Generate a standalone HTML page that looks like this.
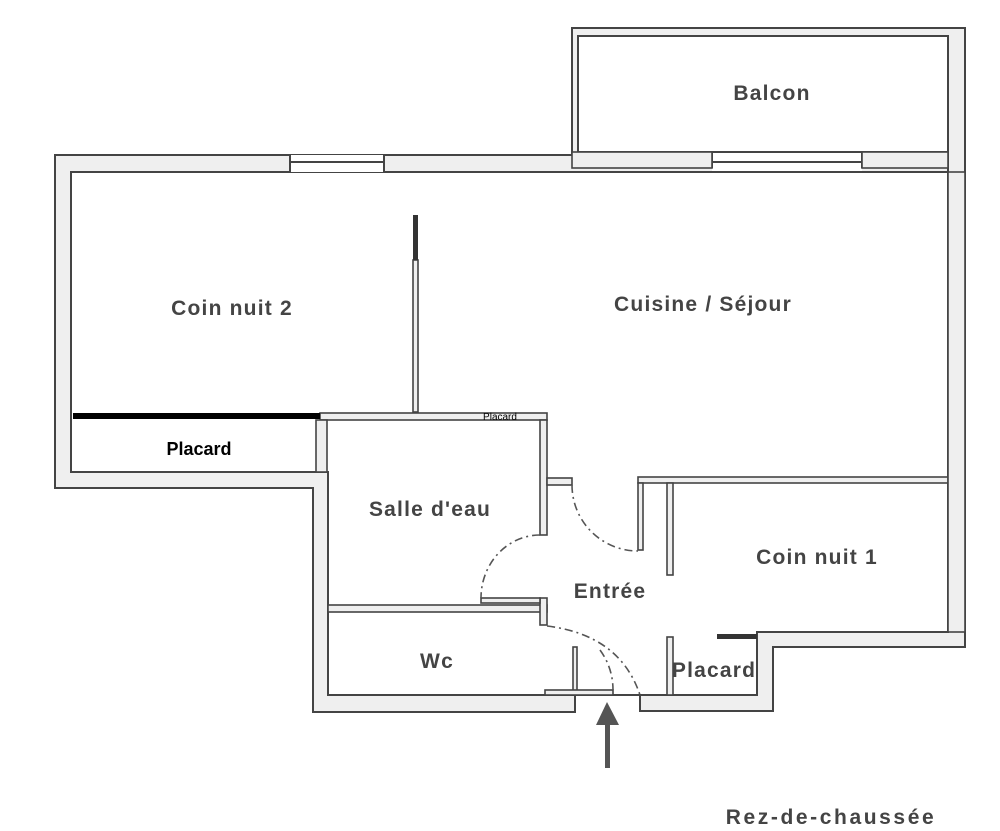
<!DOCTYPE html>
<html><head><meta charset="utf-8"><style>
html,body{margin:0;padding:0;background:#fff;}
svg{display:block;}
.t{font-family:"Comic Sans MS","Liberation Sans",sans-serif;font-weight:bold;fill:#444;font-size:21px;text-anchor:middle;letter-spacing:1.2px;}
</style></head><body>
<svg width="1000" height="831" viewBox="0 0 1000 831" xmlns="http://www.w3.org/2000/svg">
<g stroke="#444" stroke-width="2" stroke-linejoin="miter">
<path d="M55,155 L572,155 L572,28 L965,28 L965,647 L773,647 L773,711 L640,711 L640,695 L575,695 L575,712 L313,712 L313,488 L55,488 Z" fill="#efefef"/>
<path d="M71,172 L948,172 L948,632 L757,632 L757,695 L640,695 L575,695 L328,695 L328,472 L71,472 Z" fill="#fff"/>
<rect x="578" y="36" width="370" height="116" fill="#fff"/>
</g>
<g fill="#fff" stroke="#444" stroke-width="2">
<rect x="290" y="155" width="94" height="7" fill="#fff" stroke="none"/>
<rect x="290" y="162" width="94" height="10" fill="#fff" stroke="none"/>
<line x1="290" y1="162" x2="384" y2="162"/>
<line x1="290" y1="155" x2="290" y2="172"/><line x1="384" y1="155" x2="384" y2="172"/>
<rect x="712" y="153" width="150" height="18" fill="#fff" stroke="none"/>
<line x1="712" y1="162" x2="862" y2="162"/>
<line x1="712" y1="152" x2="712" y2="168"/><line x1="862" y1="152" x2="862" y2="168"/>
<line x1="948" y1="152" x2="948" y2="172"/>
</g>
<g fill="#efefef" stroke="#444" stroke-width="1.6">
<rect x="572" y="152" width="140" height="16"/>
<rect x="862" y="152" width="86" height="16"/>
<rect x="413" y="260" width="5" height="152"/>
<rect x="320" y="413" width="227" height="7"/>
<rect x="316" y="420" width="11" height="52"/>
<rect x="540" y="420" width="7" height="115"/>
<rect x="547" y="478" width="25" height="7"/>
<rect x="328" y="605" width="219" height="7"/>
<rect x="540" y="598" width="7" height="27"/>
<rect x="481" y="598" width="59" height="5"/>
<rect x="573" y="647" width="4" height="48"/>
<rect x="545" y="690" width="68" height="5"/>
<rect x="638" y="477" width="310" height="6"/>
<rect x="638" y="483" width="5" height="67"/>
<rect x="667" y="483" width="6" height="92"/>
<rect x="667" y="637" width="6" height="58"/>
<rect x="948" y="172" width="17" height="460"/>
</g>
<rect x="413" y="215" width="5" height="45" fill="#333"/>
<rect x="73" y="413" width="247" height="6" fill="#000"/>
<rect x="717" y="634" width="40" height="5" fill="#333"/>
<g fill="none" stroke="#555" stroke-width="1.6" stroke-dasharray="8,4,2,4">
<path d="M572,485 A66,66 0 0 0 638,551"/>
<path d="M540,535 A59,63 0 0 0 481,598"/>
<path d="M547,626 Q620,635 640,695"/>
<path d="M600,650 Q613,668 613,690"/>
</g>
<rect x="605" y="722" width="5" height="46" fill="#555"/>
<polygon points="607,702 596,725 619,725" fill="#555"/>
<text class="t" x="772" y="100">Balcon</text>
<text class="t" x="232" y="315">Coin nuit 2</text>
<text class="t" x="703" y="311">Cuisine / Séjour</text>
<text x="199" y="455" font-family="Liberation Sans, sans-serif" font-weight="bold" font-size="18" text-anchor="middle" fill="#000">Placard</text>
<text x="500" y="420" font-family="Liberation Sans, sans-serif" font-size="10" text-anchor="middle" fill="#000">Placard</text>
<text class="t" x="430" y="516">Salle d'eau</text>
<text class="t" x="610" y="598">Entrée</text>
<text class="t" x="817" y="564">Coin nuit 1</text>
<text class="t" x="437" y="668">Wc</text>
<text class="t" x="714" y="677">Placard</text>
<text class="t" x="831" y="824" style="font-size:21px;letter-spacing:2.6px">Rez-de-chaussée</text>
</svg>
</body></html>
